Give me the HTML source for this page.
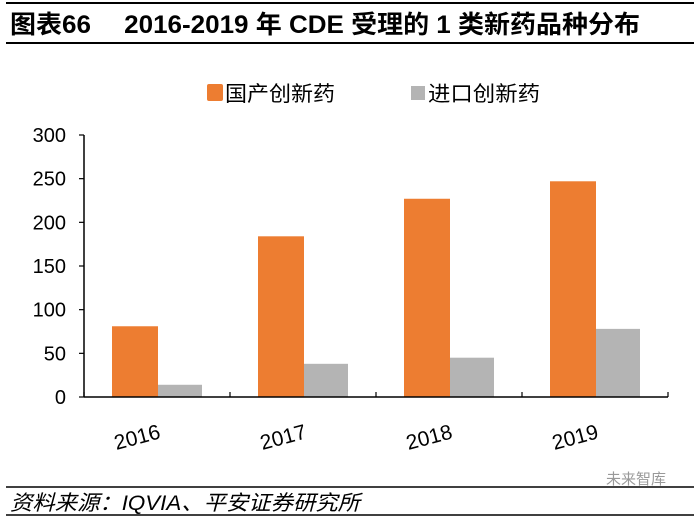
<!DOCTYPE html>
<html><head><meta charset="utf-8"><style>
body{margin:0;background:#fff;}
svg{display:block;font-family:"Liberation Sans","Noto Sans CJK SC",sans-serif;}
</style></head><body>
<svg width="700" height="518" viewBox="0 0 700 518">
<line x1="6" y1="3" x2="694" y2="3" stroke="#000" stroke-width="2"/>
<text x="10" y="33" font-size="25" font-weight="bold" textLength="630" lengthAdjust="spacingAndGlyphs">图表66　 2016-2019 年 CDE 受理的 1 类新药品种分布</text>
<line x1="6" y1="43" x2="694" y2="43" stroke="#000" stroke-width="2"/>
<g>
<rect x="207" y="84" width="16" height="17" rx="2" fill="#ED7D31"/>
<text x="225" y="101" font-size="21" textLength="110" lengthAdjust="spacingAndGlyphs">国产创新药</text>
<rect x="411" y="86" width="14" height="14" fill="#B4B4B4"/>
<text x="428" y="101" font-size="21" textLength="112" lengthAdjust="spacingAndGlyphs">进口创新药</text>
</g>
<g id="plot"></g>
<line x1="6" y1="487" x2="694" y2="487" stroke="#000" stroke-width="1.5"/>
<text x="10" y="510" font-size="21" font-style="italic" textLength="350" lengthAdjust="spacingAndGlyphs">资料来源：IQVIA、平安证券研究所</text>
<text x="606" y="484" font-size="15" fill="#999">未来智库</text>
<line x1="6" y1="515" x2="694" y2="515" stroke="#000" stroke-width="1.5"/>
</svg>
<script>
const categories = ["2016","2017","2018","2019"];
const domestic = [81, 184, 227, 247];
const imported = [14, 38, 45, 78];
const yTicks = [0,50,100,150,200,250,300];

const NS="http://www.w3.org/2000/svg";
const g=document.getElementById('plot');
const x0=84,x1=668,y0=397,yTop=135,yMax=300;
const bw=(x1-x0)/categories.length;
function y(v){return y0-(v/yMax)*(y0-yTop);}
function mk(t,a){const e=document.createElementNS(NS,t);for(const k in a)e.setAttribute(k,a[k]);g.appendChild(e);return e;}
yTicks.forEach(v=>{
  const t=mk('text',{x:66,y:y(v)+7,'font-size':20,'text-anchor':'end'});
  t.textContent=v;
  
  
});
const yl=mk('line',{x1:x0,y1:yTop,x2:x0,y2:y0,stroke:'#000','stroke-width':1.5});


for(let i=0;i<yTicks.length;i++){
  const tk=mk('line',{x1:x0-5,y1:y(yTicks[i]),x2:x0,y2:y(yTicks[i]),stroke:'#000','stroke-width':1.2});
  
  
}
categories.forEach((c,i)=>{
  const cx=x0+bw*(i+0.5);
  const b1=mk('rect',{x:cx-45,y:y(domestic[i]),width:46,height:y0-y(domestic[i]),fill:'#ED7D31'});
  
  
  const b2=mk('rect',{x:cx+1,y:y(imported[i]),width:44,height:y0-y(imported[i]),fill:'#B4B4B4'});
  
  
  const lx=cx-18, ly=y0+47;
  const t=mk('text',{x:lx,y:ly,'font-size':21,'text-anchor':'middle',transform:`rotate(-15 ${lx} ${ly})`});
  t.textContent=c;
  
  
});
const xl=mk('line',{x1:x0,y1:y0,x2:x1,y2:y0,stroke:'#000','stroke-width':1.5});


for(let i=0;i<=categories.length;i++){
  const tk=mk('line',{x1:x0+bw*i,y1:y0-5,x2:x0+bw*i,y2:y0,stroke:'#000','stroke-width':1.2});
  
  
}
</script>
</body></html>
